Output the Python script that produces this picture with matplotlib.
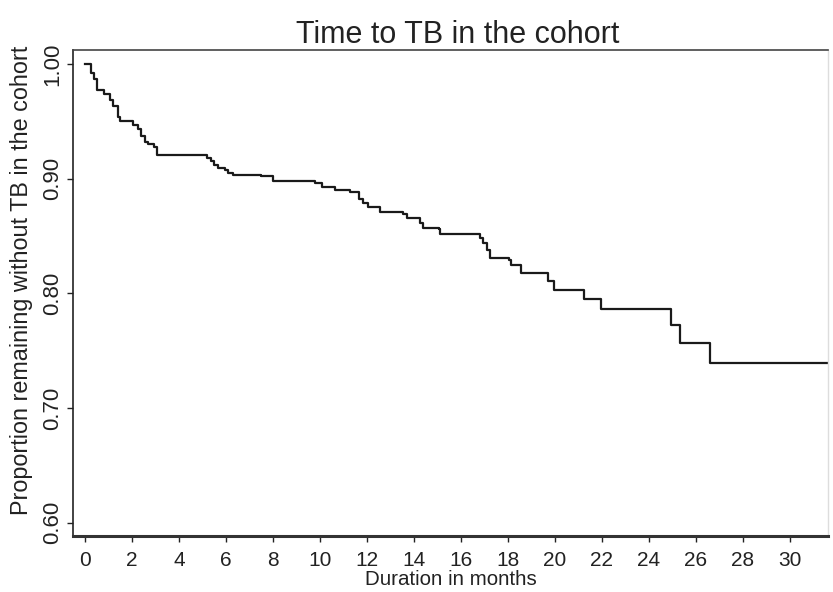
import numpy as np
import matplotlib
matplotlib.use("Agg")
import matplotlib.pyplot as plt

plt.rcParams["font.family"] = ["Liberation Sans", "DejaVu Sans"]

# Kaplan-Meier steps: time (months) at which the curve drops, survival after the drop
event_months = [0.0, 0.26, 0.40, 0.50, 0.81, 1.05, 1.20, 1.40, 1.50, 2.05, 2.25, 2.40,
                2.55, 2.70, 2.95, 3.05, 5.20, 5.35, 5.50, 5.65, 5.95, 6.10, 6.30, 7.50,
                8.00, 9.80, 10.10, 10.65, 11.30, 11.65, 11.85, 12.05, 12.55, 13.55, 13.70,
                14.25, 14.40, 15.05, 15.12, 16.80, 16.95, 17.10, 17.25, 18.05, 18.15,
                18.55, 19.70, 19.98, 21.25, 21.95, 24.92, 25.32, 26.60, 31.60]
survival = [1.000, 0.992, 0.987, 0.977, 0.974, 0.969, 0.963, 0.954, 0.950, 0.947, 0.943, 0.937,
            0.932, 0.930, 0.928, 0.921, 0.918, 0.915, 0.912, 0.909, 0.908, 0.905, 0.903, 0.902,
            0.898, 0.896, 0.893, 0.890, 0.888, 0.882, 0.879, 0.875, 0.871, 0.869, 0.866,
            0.861, 0.857, 0.856, 0.852, 0.848, 0.844, 0.838, 0.831, 0.829, 0.825,
            0.818, 0.811, 0.803, 0.795, 0.786, 0.772, 0.757, 0.739, 0.739]

x_ticks = list(range(0, 31, 2))
y_ticks = [0.60, 0.70, 0.80, 0.90, 1.00]
y_tick_labels = ["0.60", "0.70", "0.80", "0.90", "1.00"]

fig = plt.figure(figsize=(8.33, 5.92), dpi=100)
ax = fig.add_axes([0.0876, 0.0946, 0.9064, 0.8209])

ax.step(event_months, survival, where="post", color="#1a1a1a", linewidth=1.6)

ax.set_xlim(-0.51, 31.62)
ax.set_ylim(0.5884, 1.0122)
ax.set_xticks(x_ticks)
ax.set_yticks(y_ticks)
ax.set_yticklabels(y_tick_labels, rotation=90, va="center")
ax.tick_params(axis="both", direction="out", length=4, width=1,
               colors="#222222")
ax.tick_params(axis="x", labelsize=15, pad=7)
ax.tick_params(axis="y", labelsize=16, pad=3)

ax.spines["left"].set_color("#222222")
ax.spines["left"].set_linewidth(1.2)
ax.spines["bottom"].set_color("#333333")
ax.spines["bottom"].set_linewidth(2.2)
ax.spines["top"].set_color("#444444")
ax.spines["top"].set_linewidth(1.2)
ax.spines["right"].set_color("#dddddd")
ax.spines["right"].set_linewidth(1.0)

ax.set_title("Time to TB in the cohort", fontsize=22, color="#222222", pad=5, x=0.51)
ax.set_xlabel("Duration in months", fontsize=14.8, color="#222222", labelpad=0)
ax.set_ylabel("Proportion remaining without TB in the cohort", fontsize=16.8,
              color="#222222")
ax.yaxis.set_label_coords(-0.053, 0.527)

fig.savefig("out.png", dpi=100)
